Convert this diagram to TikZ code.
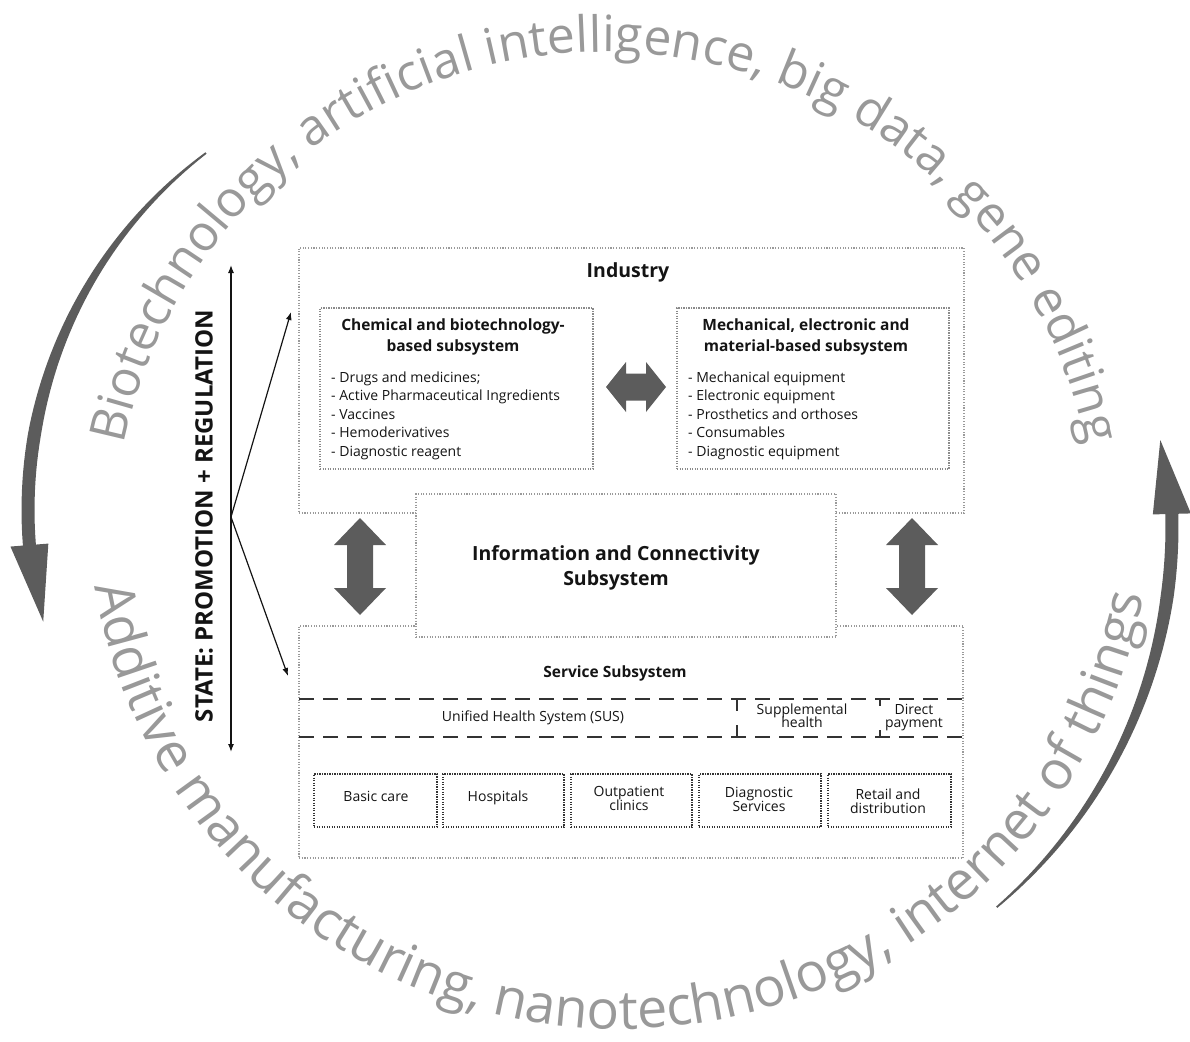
\documentclass[tikz,border=0pt]{standalone}
\usepackage{fontspec}
\setmainfont{Open Sans}
\usetikzlibrary{decorations.text,arrows.meta}
\definecolor{boxgray}{HTML}{9A9A9A}
\definecolor{subgray}{HTML}{8A8A8A}
\definecolor{darkline}{HTML}{333333}
\definecolor{arrowgray}{HTML}{5C5C5C}
\definecolor{arcgray}{HTML}{999999}
\definecolor{txt}{HTML}{141414}
\newcommand\arcfntA{\fontsize{50}{60}\selectfont}
\newcommand\arcfntB{\fontsize{54}{60}\selectfont}
\begin{document}
\begin{tikzpicture}[x=1pt,y=1pt,
  outerbox/.style={draw=boxgray, line width=1.1pt, dash pattern=on 1.1pt off 1.6pt, inner sep=0pt, outer sep=0pt},
  subbox/.style={draw=subgray, line width=1.1pt, dash pattern=on 1.1pt off 1.4pt, inner sep=0pt, outer sep=0pt},
  smallbox/.style={draw=darkline, line width=1.6pt, dash pattern=on 1.4pt off 1.1pt, inner sep=0pt, outer sep=0pt},
  susline/.style={draw=darkline, line width=1.8pt, dash pattern=on 15pt off 9pt},
  head/.style={font=\fontsize{19.5}{22}\bfseries\selectfont, text=txt, inner sep=0pt},
  subhead/.style={font=\fontsize{15.5}{18}\bfseries\selectfont, text=txt, inner sep=0pt},
  item/.style={font=\fontsize{14}{16}\selectfont, text=txt, inner sep=0pt},
  statearrow/.style={draw=txt, line width=1.2pt, {Latex[length=8pt,width=6pt]}-{Latex[length=8pt,width=6pt]}},
  statebranch/.style={draw=txt, line width=1.2pt, -{Latex[length=8pt,width=6pt]}},
  declare function={wl(\t)=min(13,1.8+11.2*(\t-127)/43); wr(\t)=min(13,1.8+11.2*(\t+49.5)/41.5);}
]
\useasboundingbox (0,0) rectangle (1190,-1041);

% ---- curved text ----
\path[decorate, decoration={text along path, text align=center,
  text={|\arcfntA\color{arcgray}|Biotechnology, artificial intelligence, big data, gene editing}}]
  ([shift={(172:491)}]605,-543) arc[start angle=172, end angle=8, radius=491];
\path[decorate, decoration={text along path, text align=center,
  text={|\arcfntB\color{arcgray}|Additive manufacturing, nanotechnology, internet of things}}]
  ([shift={(187.5:533)}]620,-496) arc[start angle=187.5, end angle=351.5, radius=533];

% ---- big curved arrows ----
\fill[arrowgray]
  plot[domain=127:184.5, samples=50, variable=\t] ({475+(447+0.5*wl(\t))*cos(\t)},{-510+(447+0.5*wl(\t))*sin(\t)})
  -- ({475+466*cos(184.5)},{-510+466*sin(184.5)})
  -- ({475+446*cos(194.5)},{-510+446*sin(194.5)})
  -- ({475+428*cos(184.5)},{-510+428*sin(184.5)})
  -- plot[domain=184.5:127, samples=50, variable=\t] ({475+(447-0.5*wl(\t))*cos(\t)},{-510+(447-0.5*wl(\t))*sin(\t)})
  -- cycle;
\fill[arrowgray]
  plot[domain=-49.5:1.5, samples=50, variable=\t] ({672+(500+0.5*wr(\t))*cos(\t)},{-527+(500+0.5*wr(\t))*sin(\t)})
  -- ({672+519*cos(1.5)},{-527+519*sin(1.5)})
  -- ({672+496*cos(10.1)},{-527+496*sin(10.1)})
  -- ({672+481*cos(1.5)},{-527+481*sin(1.5)})
  -- plot[domain=1.5:-49.5, samples=50, variable=\t] ({672+(500-0.5*wr(\t))*cos(\t)},{-527+(500-0.5*wr(\t))*sin(\t)})
  -- cycle;

% ---- boxes ----
\node[outerbox, minimum width=665pt, minimum height=265pt, anchor=north west] (industry) at (299,-248) {};
\node[outerbox, minimum width=664pt, minimum height=232pt, anchor=north west] (service) at (299,-626) {};
\node[subbox, minimum width=273pt, minimum height=161pt, anchor=north west] (chem) at (320,-308) {};
\node[subbox, minimum width=272pt, minimum height=161pt, anchor=north west] (mech) at (677,-308) {};
\node[outerbox, fill=white, minimum width=420pt, minimum height=143pt, anchor=north west] (info) at (416,-494) {};

% ---- industry texts ----
\node[head, anchor=base] (indtitle) at (628,-277.5) {Industry};
\node[subhead, anchor=base] (chemt1) at (453,-330.5) {Chemical and biotechnology-};
\node[subhead, anchor=base] (chemt2) at (453,-351.5) {based subsystem};
\node[subhead, anchor=base] (mecht1) at (806,-330.5) {Mechanical, electronic and};
\node[subhead, anchor=base] (mecht2) at (806,-351.5) {material-based subsystem};
\foreach \t [count=\i] in {- Drugs and medicines;, - Active Pharmaceutical Ingredients, - Vaccines, - Hemoderivatives, - Diagnostic reagent}
  \node[item, anchor=base west] (chemitem\i) at (331,{-382-18.5*(\i-1)}) {\t};
\foreach \t [count=\i] in {- Mechanical equipment, - Electronic equipment, - Prosthetics and orthoses, - Consumables, - Diagnostic equipment}
  \node[item, anchor=base west] (mechitem\i) at (688,{-382-18.5*(\i-1)}) {\t};

% ---- thick gray arrows ----
\fill[arrowgray] (606,-387) -- (626,-362) -- (626,-373.5) -- (646,-373.5) -- (646,-362) -- (666,-387)
  -- (646,-412) -- (646,-400.5) -- (626,-400.5) -- (626,-412) -- cycle;
\fill[arrowgray] (360,-518) -- (386,-545) -- (373,-545) -- (373,-588) -- (386,-588) -- (360,-615)
  -- (334,-588) -- (347,-588) -- (347,-545) -- (334,-545) -- cycle;
\fill[arrowgray] (912,-518) -- (938,-545) -- (925,-545) -- (925,-588) -- (938,-588) -- (912,-615)
  -- (886,-588) -- (899,-588) -- (899,-545) -- (886,-545) -- cycle;

% ---- info texts ----
\node[head, anchor=base] (infot1) at (616,-560.7) {Information and Connectivity};
\node[head, anchor=base] (infot2) at (616,-585.7) {Subsystem};

% ---- service ----
\node[subhead, anchor=base] (servt) at (615,-677.5) {Service Subsystem};
\coordinate (susNW) at (299,-699);
\coordinate (susNE) at (963,-699);
\coordinate (susSW) at (299,-737);
\coordinate (susSE) at (963,-737);
\draw[susline] (susNW) -- (susNE);
\draw[susline] (susSW) -- (susSE);
\coordinate (sepAt) at (737,-699);
\coordinate (sepAb) at (737,-737);
\coordinate (sepBt) at (880,-699);
\coordinate (sepBb) at (880,-737);
\draw[draw=darkline, line width=1.6pt, dash pattern=on 12pt off 14pt] (sepAt) -- (sepAb);
\draw[draw=darkline, line width=1.6pt, dash pattern=on 7pt off 24pt] (sepBt) -- (sepBb);
\node[item, anchor=base] (sus) at (533,-721.5) {Unified Health System (SUS)};
\node[item, anchor=base] (supp1) at (802,-714) {Supplemental};
\node[item, anchor=base] (supp2) at (802,-727) {health};
\node[item, anchor=base] (dir1) at (914,-714) {Direct};
\node[item, anchor=base] (dir2) at (914,-727) {payment};

\node[smallbox, minimum width=123pt, minimum height=53pt, anchor=north west] (b1) at (314,-774) {};
\node[smallbox, minimum width=121pt, minimum height=53pt, anchor=north west] (b2) at (443,-774) {};
\node[smallbox, minimum width=121pt, minimum height=53pt, anchor=north west] (b3) at (571,-774) {};
\node[smallbox, minimum width=122pt, minimum height=53pt, anchor=north west] (b4) at (699,-774) {};
\node[smallbox, minimum width=123pt, minimum height=53pt, anchor=north west] (b5) at (828,-774) {};
\node[item, anchor=base] (b1t) at (376,-801.5) {Basic care};
\node[item, anchor=base] (b2t) at (498,-801.5) {Hospitals};
\node[item, anchor=base] (b3t1) at (629,-796.5) {Outpatient};
\node[item, anchor=base] (b3t2) at (629,-810.5) {clinics};
\node[item, anchor=base] (b4t1) at (759,-797.5) {Diagnostic};
\node[item, anchor=base] (b4t2) at (759,-811.5) {Services};
\node[item, anchor=base] (b5t1) at (888,-799.5) {Retail and};
\node[item, anchor=base] (b5t2) at (888,-813.5) {distribution};

% ---- state ----
\node[rotate=90, font=\fontsize{24}{26}\bfseries\selectfont, text=txt, inner sep=0pt] (state) at (204,-516) {STATE: PROMOTION + REGULATION};
\coordinate (stateTop) at (231,-265);
\coordinate (stateBot) at (231,-752);
\coordinate (stateMid) at (231,-517);
\coordinate (toInd) at (291,-312);
\coordinate (toServ) at (288,-676);
\draw[statearrow] (stateBot) -- (stateTop);
\draw[statebranch] (stateMid) -- (toInd);
\draw[statebranch] (stateMid) -- (toServ);
\end{tikzpicture}
\end{document}
